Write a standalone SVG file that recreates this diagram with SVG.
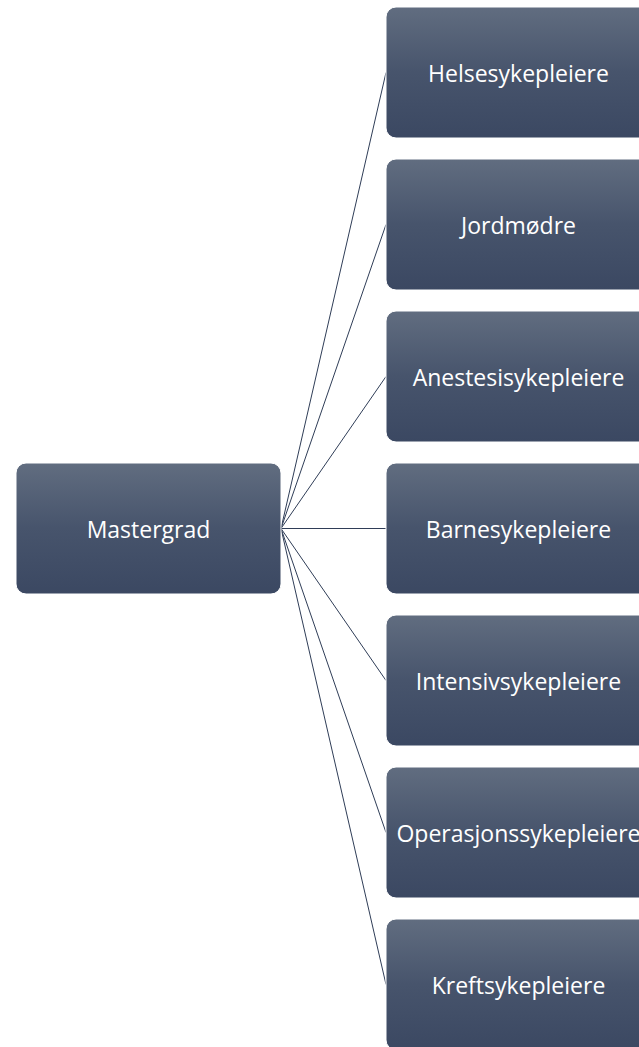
<svg xmlns="http://www.w3.org/2000/svg" width="639" height="1047" viewBox="0 0 639 1047">
<defs>
<linearGradient id="g" x1="0" y1="0" x2="0" y2="1">
<stop offset="0" stop-color="#616d80"/>
<stop offset="0.5" stop-color="#47546c"/>
<stop offset="1" stop-color="#3b4862"/>
</linearGradient>
<style>
.box{fill:url(#g);stroke:#ffffff;stroke-width:1}
.lbl{font-family:"Open Sans","Noto Sans",sans-serif;font-size:23px;fill:#ffffff;text-anchor:middle;dominant-baseline:central}
.con{stroke:#2f3d57;stroke-width:1;fill:none}
</style>
</defs>
<rect width="639" height="1047" fill="#ffffff"/>
<g id="connectors">
<line class="con" x1="281" y1="528.5" x2="386" y2="72.5"/>
<line class="con" x1="281" y1="528.5" x2="386" y2="224.5"/>
<line class="con" x1="281" y1="528.5" x2="386" y2="376.5"/>
<line class="con" x1="281" y1="528.5" x2="386" y2="528.5"/>
<line class="con" x1="281" y1="528.5" x2="386" y2="680.5"/>
<line class="con" x1="281" y1="528.5" x2="386" y2="832.5"/>
<line class="con" x1="281" y1="528.5" x2="386" y2="984.5"/>
</g>
<g id="mastergrad"><rect class="box" x="16" y="463" width="265" height="131" rx="10"/><text class="lbl" x="148.5" y="528.5">Mastergrad</text></g>
<g id="helse"><rect class="box" x="386" y="7" width="265" height="131" rx="10"/><text class="lbl" x="518.5" y="72.5">Helsesykepleiere</text></g>
<g id="jordmodre"><rect class="box" x="386" y="159" width="265" height="131" rx="10"/><text class="lbl" x="518.5" y="224.5">Jordmødre</text></g>
<g id="anestesi"><rect class="box" x="386" y="311" width="265" height="131" rx="10"/><text class="lbl" x="518.5" y="376.5">Anestesisykepleiere</text></g>
<g id="barne"><rect class="box" x="386" y="463" width="265" height="131" rx="10"/><text class="lbl" x="518.5" y="528.5">Barnesykepleiere</text></g>
<g id="intensiv"><rect class="box" x="386" y="615" width="265" height="131" rx="10"/><text class="lbl" x="518.5" y="680.5">Intensivsykepleiere</text></g>
<g id="operasjon"><rect class="box" x="386" y="767" width="265" height="131" rx="10"/><text class="lbl" x="518.5" y="832.5">Operasjonssykepleiere</text></g>
<g id="kreft"><rect class="box" x="386" y="919" width="265" height="131" rx="10"/><text class="lbl" x="518.5" y="984.5">Kreftsykepleiere</text></g>
</svg>
